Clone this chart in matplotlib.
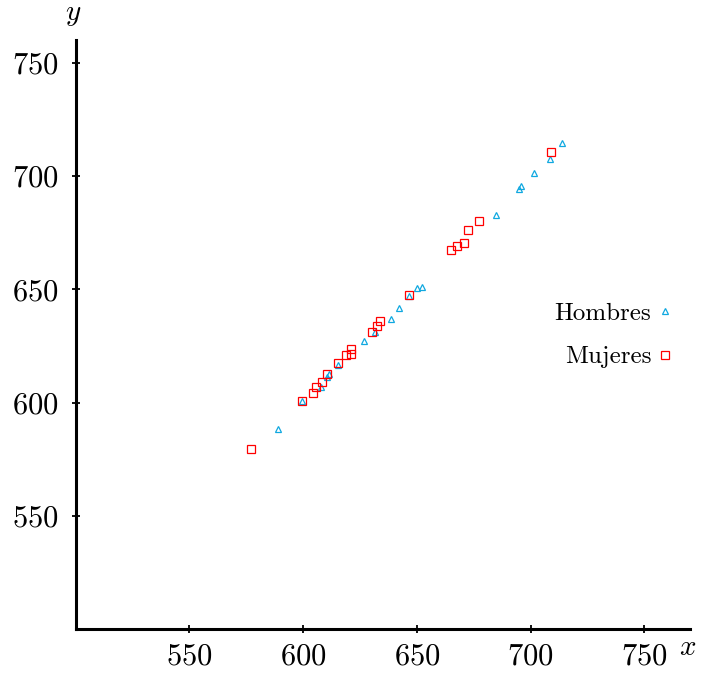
import matplotlib
matplotlib.use("Agg")
import matplotlib.pyplot as plt
from matplotlib.ticker import FixedLocator

plt.rcParams['font.family'] = ['cmr10', 'DejaVu Serif']
plt.rcParams['mathtext.fontset'] = 'cm'
plt.rcParams['axes.formatter.use_mathtext'] = True

hombres_x = [589.1, 599.4, 607.7, 610.6, 611.4, 615.5, 626.8, 631.8, 638.7, 642.3,
             646.7, 650.2, 652.3, 684.7, 695.0, 696.0, 701.3, 708.5, 714.0]
hombres_y = [588.3, 600.8, 607.0, 611.4, 612.6, 616.5, 627.1, 631.2, 637.1, 641.6,
             646.9, 650.7, 651.0, 682.9, 694.1, 695.8, 701.2, 707.7, 714.5]
mujeres_x = [577.1, 599.4, 604.4, 605.8, 608.2, 610.4, 615.2, 618.7, 621.2, 620.9,
             630.4, 632.5, 633.7, 646.7, 664.9, 667.7, 670.9, 672.5, 677.5, 708.9]
mujeres_y = [579.8, 600.8, 604.2, 607.0, 609.2, 612.7, 617.4, 621.1, 621.4, 623.9,
             631.2, 633.7, 635.9, 647.7, 667.6, 669.3, 670.6, 676.0, 680.1, 710.8]
ticks = [550, 600, 650, 700, 750]
labels = ["Hombres", "Mujeres"]

fig = plt.figure(figsize=(7.01, 6.76), dpi=100)
ax = fig.add_axes([0.108, 0.0688, 0.876, 0.872])
ax.set_xlim(500, 770)
ax.set_ylim(500, 760)

ax.plot(hombres_x, hombres_y, linestyle='none', marker='^', markersize=5,
        markerfacecolor='none', markeredgecolor='#10a8e0', markeredgewidth=0.9,
        label=labels[0])
ax.plot(mujeres_x, mujeres_y, linestyle='none', marker='s', markersize=6,
        markerfacecolor='none', markeredgecolor='#ff0000', markeredgewidth=0.9,
        label=labels[1])

for s in ['top', 'right']:
    ax.spines[s].set_visible(False)
for s in ['left', 'bottom']:
    ax.spines[s].set_linewidth(2.2)

ax.xaxis.set_major_locator(FixedLocator(ticks))
ax.yaxis.set_major_locator(FixedLocator(ticks))
ax.set_xticklabels([f"${t}$" for t in ticks])
ax.set_yticklabels([f"${t}$" for t in ticks])
ax.tick_params(direction='inout', length=6, width=1.3, labelsize=22)
ax.tick_params(axis='x', pad=7)
ax.tick_params(axis='y', pad=9)

fig.text(688 / 701, 1 - 648 / 676, "$x$", fontsize=21, ha='center', va='center')
fig.text(73 / 701, 1 - 15 / 676, "$y$", fontsize=21, ha='center', va='center')

leg = ax.legend(loc='center right', bbox_to_anchor=(0.992, 0.499), frameon=False,
                markerfirst=False, fontsize=18, handlelength=0.8,
                handletextpad=0.15, labelspacing=0.85, borderaxespad=0)

fig.savefig("out.png", dpi=100)
